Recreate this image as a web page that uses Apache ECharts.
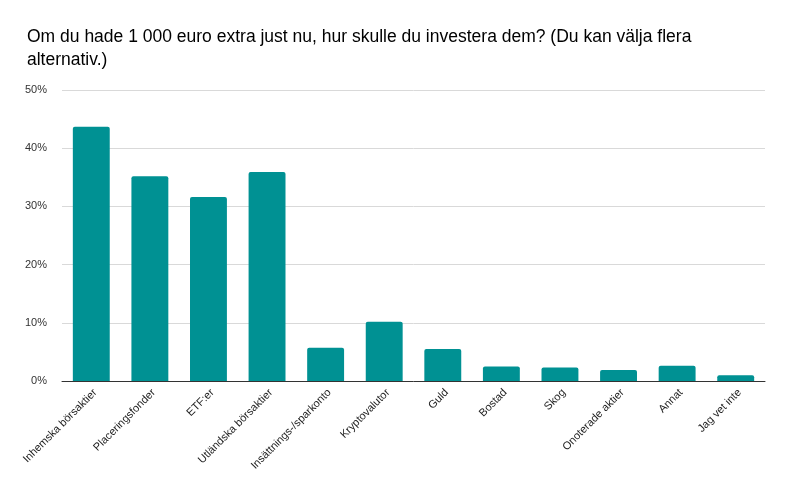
<!DOCTYPE html>
<html>
<head>
<meta charset="utf-8">
<script src="https://cdn.jsdelivr.net/npm/echarts@6/dist/echarts.min.js"></script>
<style>
    html, body { margin: 0; padding: 0; background: #fff; }
    #chart { width: 800px; height: 494px; }
</style>
</head>
<body>
<div id="chart"></div>
<script>
const categories = [
    'Inhemska börsaktier', 'Placeringsfonder', 'ETF:er', 'Utländska börsaktier',
    'Insättnings-/sparkonto', 'Kryptovalutor', 'Guld', 'Bostad', 'Skog',
    'Onoterade aktier', 'Annat', 'Jag vet inte'
]
const shares = [43.7, 35.2, 31.6, 35.9, 5.7, 10.2, 5.5, 2.5, 2.3, 1.9, 2.6, 1.0]
const yTicks = [0, 10, 20, 30, 40, 50]

const chart = echarts.init(document.getElementById('chart'))

const option = {
    animation: false,
    title: {
        text: 'Om du hade 1 000 euro extra just nu, hur skulle du investera dem? (Du kan välja flera\nalternativ.)',
        left: 22,
        top: 21,
        textStyle: {
            fontFamily: 'Liberation Sans, Arial, sans-serif',
            fontSize: 17.5,
            fontWeight: 'normal',
            color: '#000',
            lineHeight: 23
        }
    },
    grid: {
        left: 62,
        right: 35,
        top: 90,
        bottom: 113
    },
    xAxis: {
        type: 'category',
        data: categories,
        axisLine: { lineStyle: { color: '#333', width: 1 } },
        axisTick: { show: false },
        axisLabel: {
            rotate: 45,
            interval: 0,
            margin: 6,
            verticalAlign: 'top',
            fontFamily: 'Liberation Sans, Arial, sans-serif',
            fontSize: 11,
            color: '#222'
        }
    },
    yAxis: {
        type: 'value',
        min: yTicks[0],
        max: yTicks[yTicks.length - 1],
        interval: 10,
        axisLine: { show: false },
        axisTick: { show: false },
        splitLine: { lineStyle: { color: '#d9d9d9', width: 1 } },
        axisLabel: {
            margin: 15,
            formatter: v => v + '%',
            fontFamily: 'Liberation Sans, Arial, sans-serif',
            fontSize: 11,
            color: '#333'
        }
    },
    series: [{
        type: 'bar',
        data: shares,
        barCategoryGap: '37%',
        itemStyle: {
            color: '#009193',
            borderRadius: [2, 2, 0, 0]
        }
    }]
}

chart.setOption(option)
</script>
</body>
</html>
